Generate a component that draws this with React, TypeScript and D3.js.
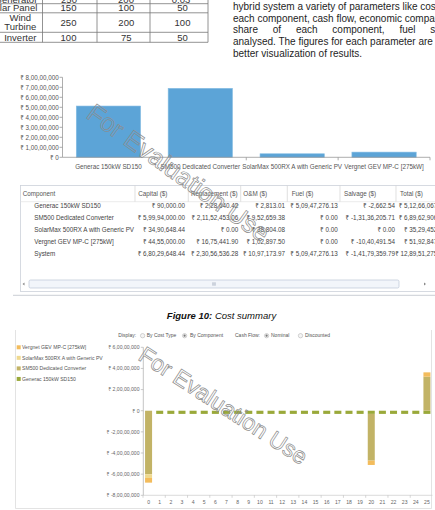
import React from "react";
import * as d3 from "d3";

const FONT = "'Liberation Sans', Arial, 'Noto Sans', 'DejaVu Sans', sans-serif";

// ---------- spec table (top-left, partially visible) ----------
const specPartialRow = ["Generator", "250", "200", "0.03"];
const specNames = ["Solar Panel", "Wind Turbine", "Inverter"];
const specCapital = ["150", "250", "100"];
const specReplace = ["100", "200", "75"];
const specOM = ["50", "100", "50"];

// ---------- body text ----------
const bodyLines = [
  "hybrid system a variety of parameters like cost of",
  "each component, cash flow, economic comparison,",
  "share of each component, fuel summary etc. are",
  "analysed. The figures for each parameter are shown for",
  "better visualization of results.",
];

// ---------- cost summary ----------
const components = [
  "Generac 150kW SD150",
  "SM500 Dedicated Converter",
  "SolarMax 500RX A with Generic PV",
  "Vergnet GEV MP-C [275kW]",
];
const tableRows = [...components, "System"];
const tableHeaders = ["Component", "Capital ($)", "Replacement ($)", "O&M ($)", "Fuel ($)", "Salvage ($)", "Total ($)"];
const capital = [90000, 59994000, 3490648.44, 4455000, 68029648.44];
const replacement = [228640.42, 21152453.06, 0, 1675441.9, 23056536.28];
const om = [2813.01, 952659.38, 38804.08, 102897.5, 1097173.97];
const fuel = [50947276.13, 0, 0, 0, 50947276.13];
const salvage = [-2662.54, -13136205.71, 0, -1040491.54, -14179359.79];
const total = [51266067.02, 68962906.73, 3529452.52, 5192847.86, 128951275.03];
const costTicks = [0, 10000000, 20000000, 30000000, 40000000, 50000000, 60000000, 70000000, 80000000];

// ---------- cash flow ----------
const years = [0, 1, 2, 3, 4, 5, 6, 7, 8, 9, 10, 11, 12, 13, 14, 15, 16, 17, 18, 19, 20, 21, 22, 23, 24, 25];
const cfGenerac = [-90000, -3000000, -3000000, -3000000, -3000000, -3000000, -3000000, -3000000, -3000000, -3000000, -3000000, -3000000, -3000000, -3000000, -3000000, -3000000, -3000000, -3000000, -3000000, -3000000, -3000000, -3000000, -3000000, -3000000, -3000000, -3000000];
const cfSM500 = [-59994000, 0, 0, 0, 0, 0, 0, 0, 0, 0, 0, 0, 0, 0, 0, 0, 0, 0, 0, 0, -44200000, 0, 0, 0, 0, 32200000];
const cfSolarMax = [-3490648.44, 0, 0, 0, 0, 0, 0, 0, 0, 0, 0, 0, 0, 0, 0, 0, 0, 0, 0, 0, 0, 0, 0, 0, 0, 0];
const cfVergnet = [-4455000, 0, 0, 0, 0, 0, 0, 0, 0, 0, 0, 0, 0, 0, 0, 0, 0, 0, 0, 0, -4100000, 0, 0, 0, 0, 4100000];
const cfTicks = [60000000, 40000000, 20000000, 0, -20000000, -40000000, -60000000, -80000000];
const seriesKeys = ["Generac", "SM500", "SolarMax", "Vergnet"];
const seriesColors = ["#9aa93a", "#c2b366", "#efd98f", "#f3bc5c"];
const legendOrder = [3, 2, 1, 0];

function indian(n: number, dec: number): string {
  const neg = n < 0;
  const s = Math.abs(n).toFixed(dec);
  const [intPart, frac] = s.split(".");
  let last3 = intPart.slice(-3);
  let rest = intPart.slice(0, -3);
  if (rest) last3 = "," + last3;
  rest = rest.replace(/\B(?=(\d{2})+(?!\d))/g, ",");
  return "₹ " + (neg ? "-" : "") + rest + last3 + (frac ? "." + frac : "");
}

export default function App() {
  // top bar chart
  const x1 = d3.scaleBand<string>().domain(components).range([62.5, 430]).paddingInner(0.3).paddingOuter(0.15);
  const y1 = d3.scaleLinear().domain([0, 80000000]).range([157.3, 77.3]);
  const step1 = x1.step();

  // cash flow chart
  const x2 = d3.scaleBand<string>().domain(years.map(String)).range([143, 432.5]).paddingInner(0.37).paddingOuter(0.185);
  const y2 = d3.scaleLinear().domain([-80000000, 60000000]).range([495.3, 347.3]);
  const step2 = x2.step();
  const rows = years.map((yr, i) => ({
    year: String(yr),
    Generac: cfGenerac[i],
    SM500: cfSM500[i],
    SolarMax: cfSolarMax[i],
    Vergnet: cfVergnet[i],
  }));
  const stacked = d3.stack<any>().keys(seriesKeys).offset(d3.stackOffsetDiverging)(rows);

  const colRight = [185, 238.3, 285, 337.7, 395, 446];
  const headerX = [22.7, 138.3, 191, 243.3, 291.7, 344, 400];
  const sepX = [135, 188.3, 240.7, 287.3, 340, 396];
  const rowY = [208.4, 220.4, 232.2, 244, 255.7];
  const tableCols = [capital, replacement, om, fuel, salvage, total];

  return (
    <svg width={435} height={510} style={{ position: "absolute", left: 0, top: 0, background: "#fff" }} fontFamily={FONT}>
      <rect x={0} y={0} width={435} height={510} fill="#fff" />

      {/* ---- spec table ---- */}
      <g fontSize={9.5} fill="#333" textAnchor="middle">
        <g stroke="#777" strokeWidth={0.8}>
          <line x1={0} x2={208} y1={3.7} y2={3.7} />
          <line x1={0} x2={208} y1={12.8} y2={12.8} />
          <line x1={0} x2={208} y1={32.3} y2={32.3} />
          <line x1={0} x2={208} y1={42.3} y2={42.3} />
          {[42.5, 97, 150, 208].map((x) => (
            <line key={x} x1={x} x2={x} y1={0} y2={42.3} />
          ))}
        </g>
        <text x={37.3} y={2.9} textAnchor="end">{specPartialRow[0]}</text>
        <text x={69} y={2.9}>{specPartialRow[1]}</text>
        <text x={126} y={2.9}>{specPartialRow[2]}</text>
        <text x={181} y={2.9}>{specPartialRow[3]}</text>
        <text x={37.3} y={11.3} textAnchor="end">{specNames[0]}</text>
        <text x={20.3} y={20.8}>{specNames[1].split(" ")[0]}</text>
        <text x={20.3} y={30.2}>{specNames[1].split(" ")[1]}</text>
        <text x={20.3} y={40.6}>{specNames[2]}</text>
        {[11.3, 25.7, 40.6].map((yy, i) => (
          <g key={i}>
            <text x={68.5} y={yy}>{specCapital[i]}</text>
            <text x={126.3} y={yy}>{specReplace[i]}</text>
            <text x={182.5} y={yy}>{specOM[i]}</text>
          </g>
        ))}
      </g>

      {/* ---- body text ---- */}
      <g fontSize={10} fill="#1e1e1e">
        {bodyLines.map((t, i) => (
          <text key={i} x={233} y={10 + i * 11.65} wordSpacing={i === 2 ? 12 : 0}>{t}</text>
        ))}
      </g>

      {/* ---- cost bar chart ---- */}
      <g>
        {components.map((c, i) => (
          <rect key={c} x={x1(c)} y={y1(total[i])} width={x1.bandwidth()} height={y1(0) - y1(total[i])}
            fill="#5ca4d7" stroke="#86bde3" strokeWidth={0.6} />
        ))}
        <line x1={62.5} x2={62.5} y1={y1(80000000)} y2={y1(0)} stroke="#999" strokeWidth={0.8} />
        <line x1={62.5} x2={430} y1={y1(0)} y2={y1(0)} stroke="#999" strokeWidth={0.8} />
        {costTicks.map((t) => (
          <g key={t}>
            <line x1={59.5} x2={62.5} y1={y1(t)} y2={y1(t)} stroke="#999" strokeWidth={0.8} />
            <text x={58.8} y={y1(t) + 2.2} fontSize={6.3} fill="#555" textAnchor="end">{indian(t, 0)}</text>
          </g>
        ))}
        {components.map((c, i) => (
          <line key={"t" + c} x1={62.5 + step1 * (i + 1)} x2={62.5 + step1 * (i + 1)} y1={y1(0)} y2={y1(0) + 3} stroke="#999" strokeWidth={0.8} />
        ))}
        {components.map((c) => (
          <text key={"l" + c} x={(x1(c) as number) + x1.bandwidth() / 2} y={169.3} fontSize={6.3} fill="#555" textAnchor="middle">{c}</text>
        ))}
      </g>

      {/* ---- cost table ---- */}
      <g>
        <rect x={20.5} y={185.5} width={430} height={106} fill="none" stroke="#cdd2da" strokeWidth={0.8} />
        <line x1={20.5} x2={435} y1={201.7} y2={201.7} stroke="#e2e2e2" strokeWidth={0.7} />
        {sepX.map((x) => (
          <line key={x} x1={x} x2={x} y1={185.5} y2={201.7} stroke="#d3d3d3" strokeWidth={0.7} />
        ))}
        {tableHeaders.map((h, i) => (
          <text key={h} x={headerX[i]} y={196.3} fontSize={6.3} fill="#555">{h}</text>
        ))}
        {tableRows.map((r, ri) => (
          <g key={r} fontSize={6.3} fill="#444">
            <text x={34.3} y={rowY[ri]}>{r}</text>
            {tableCols.map((col, ci) => (
              <text key={ci} x={colRight[ci]} y={rowY[ri]} textAnchor="end">{indian(col[ri], 2)}</text>
            ))}
          </g>
        ))}
        {/* scrollbar */}
        <rect x={29} y={280} width={370} height={8} rx={1.5} fill="#f2f5fa" stroke="#bcc6d6" strokeWidth={0.7} />
        {[-1.2, 0, 1.2].map((d) => (
          <line key={d} x1={214 + d} x2={214 + d} y1={282.3} y2={285.7} stroke="#8a96aa" strokeWidth={0.5} />
        ))}
        <path d="M24.5,282.5 L22.5,284 L24.5,285.5 Z" fill="#888" />
        <path d="M424,282.5 L426,284 L424,285.5 Z" fill="#888" />
        <line x1={13} x2={435} y1={295.3} y2={295.3} stroke="#bcc2ca" strokeWidth={0.8} />
      </g>

      {/* ---- caption ---- */}
      <text x={221.5} y={318.5} fontSize={9.5} textAnchor="middle" fontStyle="italic" fill="#111">
        <tspan fontWeight="bold">Figure 10:</tspan>
        <tspan> Cost summary</tspan>
      </text>

      {/* ---- cash flow chart ---- */}
      <g>
        <line x1={15.5} x2={15.5} y1={330} y2={508.5} stroke="#dcdcdc" strokeWidth={0.8} />
        <line x1={431.5} x2={431.5} y1={330} y2={508.5} stroke="#dcdcdc" strokeWidth={0.8} />
        <line x1={15.5} x2={431.5} y1={508.5} y2={508.5} stroke="#dcdcdc" strokeWidth={0.8} />

        {/* display options */}
        <g fontSize={5} fill="#555">
          <text x={118.3} y={337.4}>Display:</text>
          <circle cx={142.6} cy={335.7} r={2.2} fill="#f4f4f4" stroke="#aaa" strokeWidth={0.5} />
          <text x={146.7} y={337.4}>By Cost Type</text>
          <circle cx={184.6} cy={335.7} r={2.2} fill="#f4f4f4" stroke="#aaa" strokeWidth={0.5} />
          <circle cx={184.6} cy={335.7} r={1.1} fill="#777" />
          <text x={190} y={337.4}>By Component</text>
          <text x={235} y={337.4}>Cash Flow:</text>
          <circle cx={266.6} cy={335.7} r={2.2} fill="#f4f4f4" stroke="#aaa" strokeWidth={0.5} />
          <circle cx={266.6} cy={335.7} r={1.1} fill="#777" />
          <text x={271} y={337.4}>Nominal</text>
          <circle cx={300.5} cy={335.7} r={2.2} fill="#f4f4f4" stroke="#aaa" strokeWidth={0.5} />
          <text x={305} y={337.4}>Discounted</text>
        </g>

        {/* legend */}
        {legendOrder.map((si, k) => (
          <g key={si}>
            <rect x={16.7} y={345.3 + k * 10.55} width={4} height={4} fill={seriesColors[si]} />
            <text x={22} y={349.1 + k * 10.55} fontSize={5.1} fill="#555">{components[si]}</text>
          </g>
        ))}

        {/* bars */}
        {stacked.map((s, si) => (
          <g key={s.key} fill={seriesColors[si]}>
            {s.map((d, i) => {
              const top = y2(Math.max(d[0], d[1]));
              const bot = y2(Math.min(d[0], d[1]));
              if (bot - top <= 0) return null;
              return <rect key={i} x={x2(String(years[i]))} y={top} width={x2.bandwidth()} height={bot - top} />;
            })}
          </g>
        ))}

        {/* axes */}
        <line x1={143.3} x2={143.3} y1={y2(60000000)} y2={y2(-80000000)} stroke="#aaa" strokeWidth={0.7} />
        <line x1={143.3} x2={432.5} y1={y2(-80000000)} y2={y2(-80000000)} stroke="#ccc" strokeWidth={0.7} />
        {cfTicks.map((t) => (
          <g key={t}>
            <line x1={140.8} x2={143.3} y1={y2(t)} y2={y2(t)} stroke="#aaa" strokeWidth={0.6} />
            <text x={139.5} y={y2(t) + 1.8} fontSize={5.1} fill="#666" textAnchor="end">{indian(t, 0)}</text>
          </g>
        ))}
        {years.filter((yr) => yr % 2 === 0).map((yr) => (
          <line key={"xt" + yr} x1={143 + step2 * yr} x2={143 + step2 * yr} y1={y2(-80000000)} y2={y2(-80000000) + 2.5} stroke="#bbb" strokeWidth={0.6} />
        ))}
        {years.map((yr) => (
          <text key={"xl" + yr} x={(x2(String(yr)) as number) + x2.bandwidth() / 2} y={503.5} fontSize={5.1} fill="#666" textAnchor="middle">{yr}</text>
        ))}
      </g>

      {/* ---- watermarks ---- */}
      <g fill="none" stroke="#8c8c8c" strokeWidth={0.7} fontSize={25.5}>
        <text transform="translate(85,117) rotate(35.5)">For Evaluation Use</text>
      </g>
      <g fill="none" stroke="#8c8c8c" strokeWidth={0.7} fontSize={23}>
        <text transform="translate(137,359) rotate(33)">For Evaluation Use</text>
      </g>
    </svg>
  );
}
